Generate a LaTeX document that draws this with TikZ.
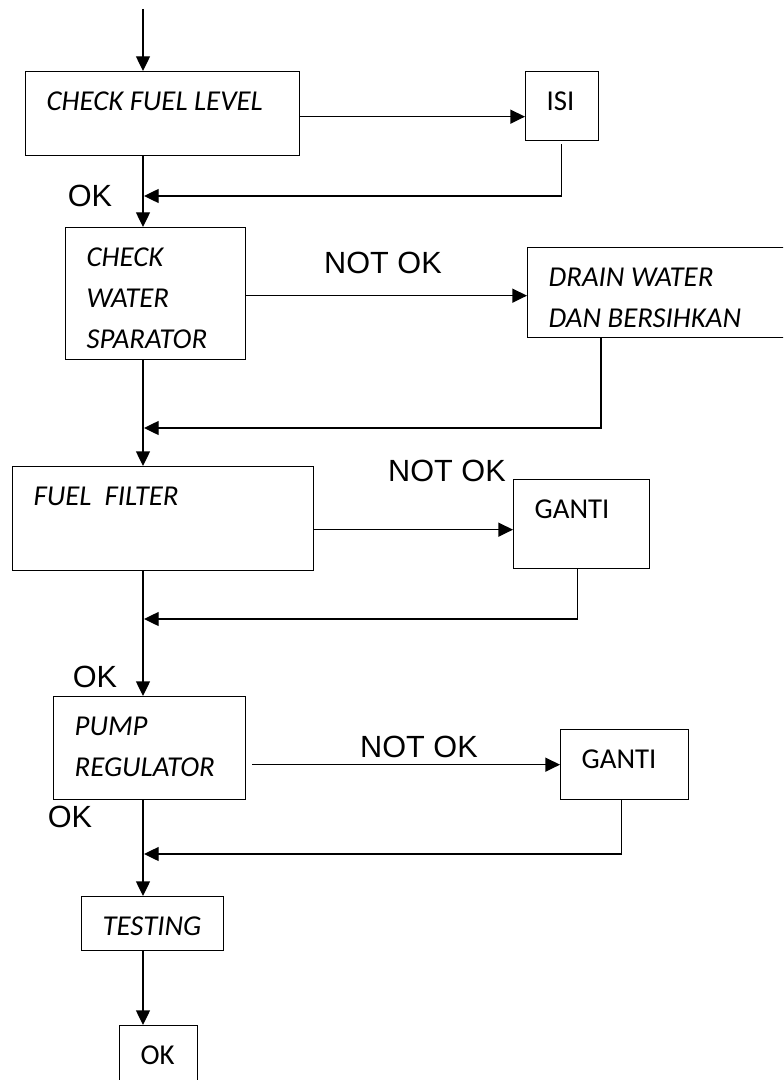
\documentclass[tikz,border=0pt]{standalone}
\usepackage{fontspec}
\setmainfont{Carlito}
\newfontfamily\labelfont{Liberation Sans}
\usetikzlibrary{arrows.meta}
\usetikzlibrary{calc}
\tikzset{>={Triangle[length=11pt,width=10.5pt]}}

\begin{document}
\begin{tikzpicture}[x=0.75pt, y=-0.75pt, line width=1pt,
    box/.style={draw, rectangle, anchor=north west, inner sep=0pt},
    txt/.style={anchor=north west, inner sep=0pt, align=left, font=\fontsize{21.6}{30.75}\selectfont},
    lbl/.style={inner sep=0pt, font=\labelfont\fontsize{23}{27}\selectfont}]
                \useasboundingbox (0,0) rectangle (783,1080);
                \clip (0,0) rectangle (783,1080);

                % Boxes
                \node [box, minimum width=205.5pt, minimum height=63pt] (fuel) at (25,71) {};
                \node [box, minimum width=54.75pt, minimum height=51.75pt] (isi) at (525,71) {};
                \node [box, minimum width=135pt, minimum height=99pt] (water) at (65,227) {};
                \node [box, minimum width=204.75pt, minimum height=67.5pt] (drain) at (527,247) {};
                \node [box, minimum width=225.75pt, minimum height=78pt] (ff) at (12,466) {};
                \node [box, minimum width=102pt, minimum height=66.75pt] (ganti1) at (513,479) {};
                \node [box, minimum width=144pt, minimum height=77.25pt] (pump) at (53,696) {};
                \node [box, minimum width=96pt, minimum height=52.5pt] (ganti2) at (560,729) {};
                \node [box, minimum width=106.5pt, minimum height=40.5pt] (testing) at (81,896) {};
                \node [box, minimum width=58.5pt, minimum height=52.5pt] (okbox) at (119,1025) {};

                % Box texts
                \node [txt] (fueltxt) at ($(fuel.north west)+(21,20)$) {\itshape CHECK FUEL LEVEL};
                \node [txt] (isitxt) at ($(isi.north west)+(21,20)$) {ISI};
                \node [txt] (watertxt) at ($(water.north west)+(21,20)$) {\itshape CHECK\\ \itshape WATER\\ \itshape SPARATOR};
                \node [txt] (draintxt) at ($(drain.north west)+(21,20)$) {\itshape DRAIN WATER\\ \itshape DAN BERSIHKAN};
                \node [txt] (fftxt) at ($(ff.north west)+(21,20)$) {\itshape FUEL\ \ FILTER};
                \node [txt] (ganti1txt) at ($(ganti1.north west)+(21,20)$) {GANTI};
                \node [txt] (pumptxt) at ($(pump.north west)+(21,20)$) {\itshape PUMP\\ \itshape REGULATOR};
                \node [txt] (ganti2txt) at ($(ganti2.north west)+(21,20)$) {GANTI};
                \node [txt] (testingtxt) at ($(testing.north west)+(21,20)$) {\itshape TESTING};
                \node [txt] (oktxt) at ($(okbox.north west)+(21,20)$) {OK};

                % Labels
                \node [lbl] (ok1) at (90,196) {OK};
                \node [lbl] (notok1) at (383,263) {NOT OK};
                \node [lbl] (notok2) at (447,471) {NOT OK};
                \node [lbl] (ok2) at (95,677) {OK};
                \node [lbl] (notok3) at (419,747) {NOT OK};
                \node [lbl] (ok3) at (70,817) {OK};

                % Joins on the main line
                \coordinate (start) at (143,9);
                \coordinate (m1) at (144,196);
                \coordinate (m2) at (144,428);
                \coordinate (m3) at (144,619);
                \coordinate (m4) at (144,854);

                % Arrows
                \draw[->] (start) -- (start |- fuel.north);
                \draw[->] ($(fuel.east)+(0,3)$) -- ($(fuel.east -| isi.west)+(0,3)$);
                \draw[->] ($(isi.south)+(-1,3)$) |- (m1);
                \draw[->] (start |- fuel.south) -- (start |- water.north);
                \draw[->] ($(water.east)+(0,2)$) -- ($(water.east -| drain.west)+(0,2)$);
                \draw[->] ($(drain.south west)+(74,0)$) |- (m2);
                \draw[->] (start |- water.south) -- (start |- ff.north);
                \draw[->] ($(ff.east)+(0,11)$) -- ($(ff.east -| ganti1.west)+(0,11)$);
                \draw[->] ($(ganti1.south)+(-4,0)$) |- (m3);
                \draw[->] (start |- ff.south) -- (start |- pump.north);
                \draw[->] ($(pump.east |- ganti2.west)+(6,0)$) -- (ganti2.west);
                \draw[->] ($(ganti2.south)+(-3,0)$) |- (m4);
                \draw[->] (start |- pump.south) -- (start |- testing.north);
                \draw[->] (start |- testing.south) -- (start |- okbox.north);
            \end{tikzpicture}
\end{document}
